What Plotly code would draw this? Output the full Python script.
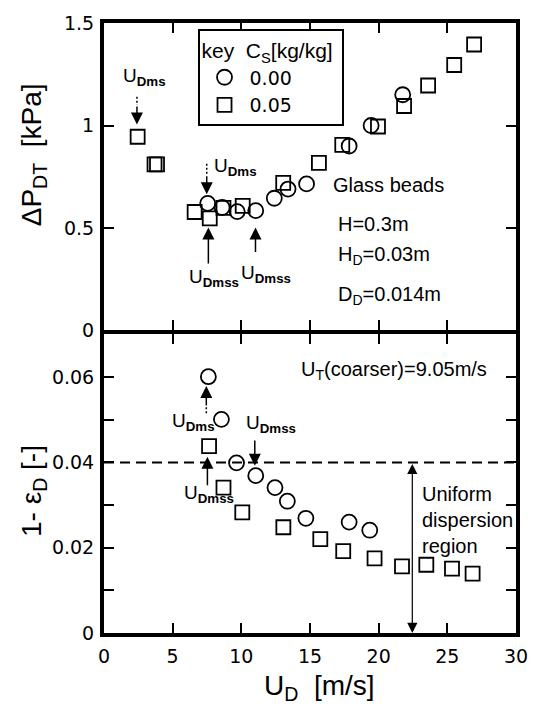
import plotly.graph_objects as go

# ---------------- data ----------------
# upper panel: pressure drop of dispersing tube vs U_D
ud_top_c000 = [7.55, 8.6, 9.7, 11.05, 12.4, 13.4, 14.75, 17.85, 19.45, 21.75]
dp_top_c000 = [0.62, 0.60, 0.58, 0.585, 0.645, 0.69, 0.715, 0.90, 1.00, 1.15]

ud_top_c005 = [2.45, 3.68, 3.86, 6.6, 7.7, 8.7, 10.1, 13.05, 15.65, 17.35, 19.95, 21.85, 23.6, 25.5, 26.95]
dp_top_c005 = [0.945, 0.81, 0.81, 0.578, 0.547, 0.598, 0.608, 0.72, 0.818, 0.905, 0.995, 1.095, 1.195, 1.295, 1.395]

# lower panel: 1 - eps_D vs U_D
ud_bot_c000 = [7.6, 8.55, 9.65, 11.05, 12.45, 13.35, 14.7, 17.85, 19.35]
ed_bot_c000 = [0.0601, 0.0501, 0.0399, 0.0369, 0.0341, 0.0309, 0.0269, 0.0260, 0.0241]

ud_bot_c005 = [7.65, 8.7, 10.07, 13.06, 15.75, 17.42, 19.7, 21.7, 23.47, 25.34, 26.84]
ed_bot_c005 = [0.0438, 0.0341, 0.0283, 0.0248, 0.0220, 0.0192, 0.0175, 0.0156, 0.0160, 0.0151, 0.0139]

legend_names = ["0.00", "0.05"]
x_ticks = [0, 5, 10, 15, 20, 25, 30]
top_y_ticks = [0, 0.5, 1, 1.5]
top_y_labels = ["0", "0.5", "1", "1.5"]
bot_y_ticks = [0, 0.01, 0.02, 0.03, 0.04, 0.05, 0.06, 0.07]
bot_y_labels = ["0", "", "0.02", "", "0.04", "", "0.06", ""]
threshold = 0.04

FONT = "Arial"
TICKFONT = "DejaVu Sans"
BLACK = "black"

circ = dict(symbol="circle-open", size=15, color=BLACK, line=dict(width=1.8, color=BLACK))
sq = dict(symbol="square-open", size=14, color=BLACK, line=dict(width=1.8, color=BLACK))

fig = go.Figure()
fig.add_trace(go.Scatter(x=ud_top_c000, y=dp_top_c000, mode="markers", marker=circ,
                         name=legend_names[0], xaxis="x2", yaxis="y"))
fig.add_trace(go.Scatter(x=ud_top_c005, y=dp_top_c005, mode="markers", marker=sq,
                         name=legend_names[1], xaxis="x2", yaxis="y"))
fig.add_trace(go.Scatter(x=ud_bot_c000, y=ed_bot_c000, mode="markers", marker=circ,
                         name=legend_names[0], xaxis="x", yaxis="y2", showlegend=False))
fig.add_trace(go.Scatter(x=ud_bot_c005, y=ed_bot_c005, mode="markers", marker=sq,
                         name=legend_names[1], xaxis="x", yaxis="y2", showlegend=False))

LW = 4
axis_common = dict(showline=True, linewidth=LW, linecolor=BLACK, mirror="ticks",
                   ticks="inside", ticklen=10, tickwidth=1.5, tickcolor=BLACK,
                   showgrid=False, zeroline=False,
                   tickfont=dict(family=TICKFONT, size=19, color=BLACK))

PLOT_H = 705 - 18 - 72
SPLIT = 0.4894
GAP = LW / PLOT_H
fig.update_layout(
    width=540, height=705,
    margin=dict(l=104, r=13, t=18, b=72),
    paper_bgcolor="white", plot_bgcolor="white",
    font=dict(family=FONT, color=BLACK),
    xaxis=dict(axis_common, range=[0, 30], tickvals=x_ticks, anchor="y2",
               ticklabelstandoff=3),
    xaxis2=dict(axis_common, range=[0, 30], tickvals=x_ticks, anchor="y", matches="x",
                showticklabels=False),
    yaxis=dict(axis_common, range=[0, 1.5], tickvals=top_y_ticks, ticktext=top_y_labels,
               domain=[SPLIT + GAP, 1], anchor="x2", ticklabelstandoff=2),
    yaxis2=dict(axis_common, range=[0, 0.07], tickvals=bot_y_ticks, ticktext=bot_y_labels,
                domain=[0, SPLIT], anchor="x", ticklabelstandoff=2),
    legend=dict(x=0.227, y=0.99, xanchor="left", yanchor="top",
                bordercolor=BLACK, borderwidth=2, bgcolor="white",
                font=dict(family=TICKFONT, size=19, color=BLACK),
                title=dict(text="key\u00a0\u00a0C<sub>S</sub>[kg/kg]\u00a0",
                           font=dict(family=FONT, size=21, color=BLACK)),
                itemwidth=40, tracegroupgap=0),
    showlegend=True,
)

# ---------------- annotations ----------------
ann = []
def label(text, x, y, xr, yr, size=19, align="left"):
    ann.append(dict(text=text, x=x, y=y, xref=xr, yref=yr, showarrow=False,
                    xanchor="left", yanchor="middle", align=align,
                    font=dict(family=FONT, size=size, color=BLACK)))

def arrow(x, y_tip, y_tail, xr, yr, width=1.5, size=1.6):
    ann.append(dict(text="", x=x, y=y_tip, ax=x, ay=y_tail, xref=xr, yref=yr,
                    axref=xr, ayref=yr, showarrow=True, arrowhead=2,
                    arrowwidth=width, arrowsize=size, arrowcolor=BLACK))

shapes = []
def dotted(x, y0, y1, xr, yr):
    shapes.append(dict(type="line", x0=x, x1=x, y0=y0, y1=y1, xref=xr, yref=yr,
                       line=dict(color=BLACK, width=1.5, dash="2px,2px")))

SUB_MS = "U<sub><b>Dms</b></sub>"
SUB_MSS = "U<sub><b>Dmss</b></sub>"

# axis titles
ann.append(dict(text="ΔP<sub>DT</sub>  [kPa]", x=-0.171, y=0.784, xref="paper", yref="paper",
                showarrow=False, textangle=-90, xanchor="center", yanchor="middle",
                font=dict(family=FONT, size=28, color=BLACK)))
ann.append(dict(text="1- ε<sub>D</sub> [-]", x=-0.171, y=0.232, xref="paper", yref="paper",
                showarrow=False, textangle=-90, xanchor="center", yanchor="middle",
                font=dict(family=FONT, size=28, color=BLACK)))
ann.append(dict(text="U<sub>D</sub>  [m/s]", x=0.522, y=-0.057, xref="paper", yref="paper",
                showarrow=False, xanchor="center", yanchor="top",
                font=dict(family=FONT, size=28, color=BLACK)))

# upper panel
label(SUB_MS, 1.22, 1.237, "x2", "y")
dotted(2.40, 1.14, 1.10, "x2", "y")
arrow(2.40, 1.005, 1.10, "x2", "y")

label(SUB_MS, 7.84, 0.80, "x2", "y")
dotted(7.48, 0.814, 0.76, "x2", "y")
arrow(7.48, 0.665, 0.76, "x2", "y")

label(SUB_MSS, 6.06, 0.256, "x2", "y")
arrow(7.6, 0.503, 0.32, "x2", "y")

label(SUB_MSS, 9.84, 0.275, "x2", "y")
arrow(11.03, 0.503, 0.376, "x2", "y")

label("Glass beads", 16.5, 0.711, "x2", "y", size=20)
label("H=0.3m", 16.9, 0.519, "x2", "y", size=20)
label("H<sub>D</sub>=0.03m", 16.9, 0.365, "x2", "y", size=20)
label("D<sub>D</sub>=0.014m", 16.9, 0.172, "x2", "y", size=20)

# lower panel
label("U<sub>T</sub>(coarser)=9.05m/s", 14.18, 0.0616, "x", "y2", size=20)

label(SUB_MS, 4.77, 0.0494, "x", "y2")
dotted(7.45, 0.0515, 0.0530, "x", "y2")
arrow(7.45, 0.0579, 0.0530, "x", "y2")

label(SUB_MSS, 5.71, 0.0325, "x", "y2")
arrow(7.53, 0.0413, 0.0343, "x", "y2")

label(SUB_MSS, 10.2, 0.049, "x", "y2")
arrow(10.98, 0.0392, 0.0455, "x", "y2")

label("Uniform<br>dispersion<br>region", 22.98, 0.0264, "x", "y2", size=20)

# double arrow for uniform dispersion region
ann.append(dict(text="", x=22.45, y=0.0, ax=22.45, ay=threshold, xref="x", yref="y2",
                axref="x", ayref="y2", showarrow=True, arrowhead=2, startarrowhead=2,
                arrowside="end+start", arrowwidth=1.2, arrowsize=1.7, startarrowsize=1.7,
                arrowcolor=BLACK))

# dashed threshold line
shapes.append(dict(type="line", x0=0, x1=30, y0=threshold, y1=threshold, xref="x", yref="y2",
                   line=dict(color=BLACK, width=2, dash="10px,6px")))

fig.update_layout(annotations=ann, shapes=shapes)
fig.write_html("out.html")
